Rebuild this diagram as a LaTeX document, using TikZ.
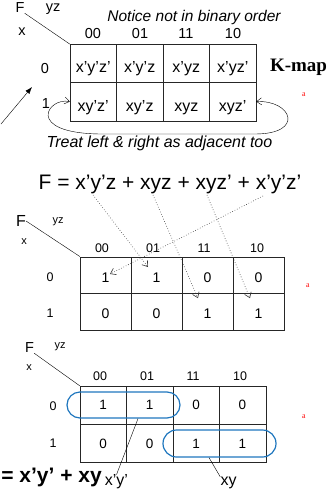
\documentclass[tikz,border=0pt]{standalone}
\usepackage{fontspec}
\setmainfont{Liberation Sans}
\newfontfamily\serifbf{Liberation Serif}
\usepackage{xcolor}
\usetikzlibrary{arrows.meta, shapes.misc}
\definecolor{loopblue}{RGB}{30,118,190}
\tikzset{
    cella/.style={rectangle, draw=black!85, minimum width=46.5pt,
                  minimum height=38.2pt, inner sep=0pt, text height=19pt, text depth=0pt,
                  font=\fontsize{16}{18}\selectfont},
    cellb/.style={rectangle, draw=black!85, minimum width=51pt,
                  minimum height=36.6pt, inner sep=0pt, text height=14pt, text depth=0pt,
                  font=\fontsize{14}{16}\selectfont},
    cellc/.style={rectangle, draw=black!85, minimum width=46.4pt,
                  minimum height=38.3pt, inner sep=0pt, font=\fontsize{13.5}{15}\selectfont},
    lbl/.style={inner sep=0pt, font=\fontsize{14.5}{16}\selectfont},
    slbl/.style={inner sep=0pt, font=\fontsize{12.5}{15}\selectfont},
    tlbl/.style={inner sep=0pt, font=\fontsize{11}{13}\selectfont},
    redmark/.style={inner sep=0pt, text=red, font=\serifbf\fontsize{8}{9}\selectfont},
    grp/.style={rounded rectangle, draw=loopblue, line width=1.2pt,
                inner sep=0pt},
    ptr/.style={dotted, line width=0.6pt, draw=black!80, -{Straight Barb[length=5pt,width=7pt]}},
    arr/.style={-{Latex[length=7pt,width=5pt]}},
    adj/.style={{Straight Barb[length=5pt,width=7pt]}-{Straight Barb[length=5pt,width=7pt]}}
}
\begin{document}
\begin{tikzpicture}[x=1pt, y=-1pt]
\useasboundingbox (0,0) rectangle (333,492);

% first map: minterms
\node[lbl] at (20,8) (fa) {F};
\node[lbl] at (53,9)  (yza) {yz};
\node[lbl] at (22,32) (xa) {x};
\node[inner sep=0pt, font=\itshape\fontsize{15.5}{17}\selectfont] at (194,17) (note) {Notice not in binary order};
\node[lbl] at (93,34)  (ha0) {00};
\node[lbl] at (140,34) (ha1) {01};
\node[lbl] at (186,34) (ha2) {11};
\node[lbl] at (233,34) (ha3) {10};
\node[lbl] at (45,69)  (ra0) {0};
\node[lbl] at (46,104) (ra1) {1};
\node[cella] at (93.25,63.4)  (a00) {x'y'z'};
\node[cella] at (139.75,63.4) (a01) {x'y'z};
\node[cella] at (186.25,63.4) (a02) {x'yz};
\node[cella] at (232.75,63.4) (a03) {x'yz'};
\node[cella] at (93.25,101.6)  (a10) {xy'z'};
\node[cella] at (139.75,101.6) (a11) {xy'z};
\node[cella] at (186.25,101.6) (a12) {xyz};
\node[cella] at (232.75,101.6) (a13) {xyz'};
\node[inner sep=0pt, font=\serifbf\bfseries\fontsize{19}{21}\selectfont] at (298.5,67) (kmap) {K-map};
\node[redmark] at (304,95) (reda) {a};
\node[inner sep=0pt, font=\itshape\fontsize{16}{18}\selectfont] at (159.5,143.5) (treat) {Treat left \& right as adjacent too};

\draw[thin] (fa.south east) -- (a00.north west);
\coordinate (pa) at (1,124);
\coordinate (pb) at (32,87);
\draw[arr] (pa) -- (pb);
\draw[adj] (a10.west) .. controls (48,97) and (24,133) .. (100,134)
    -- (255,134) .. controls (305,134) and (292,100) .. (a13.east);

% second map: plot the function
\node[inner sep=0pt, font=\fontsize{21}{24}\selectfont] at (170,184) (eqn) {F = x’y’z + xyz + xyz’ + x’y’z’};
\node[inner sep=0pt, font=\fontsize{16}{18}\selectfont] at (21,221) (fb) {F};
\node[tlbl] at (58,222) (yzb) {yz};
\node[tlbl] at (24,242) (xb) {x};
\node[slbl] at (102,248) (hb0) {00};
\node[slbl] at (153,248) (hb1) {01};
\node[slbl] at (204,248) (hb2) {11};
\node[slbl] at (257,248) (hb3) {10};
\node[slbl] at (50,277) (rb0) {0};
\node[slbl] at (50,313) (rb1) {1};
\node[cellb] at (105.5,275) (b00) {1};
\node[cellb] at (156.5,275) (b01) {1};
\node[cellb] at (207.5,275) (b02) {0};
\node[cellb] at (258.5,275) (b03) {0};
\node[cellb] at (105.5,311.7) (b10) {0};
\node[cellb] at (156.5,311.7) (b11) {0};
\node[cellb] at (207.5,311.7) (b12) {1};
\node[cellb] at (258.5,311.7) (b13) {1};
\node[redmark] at (308,286) (redb) {a};

\draw[thin] (fb.east) -- (b00.north west);
\coordinate (t1) at (93,195);
\coordinate (t2) at (153,195);
\coordinate (t3) at (207,195);
\coordinate (t4) at (263,196);
\draw[ptr] (t1) -- ([xshift=-8.5pt,yshift=8pt]b01.center);
\draw[ptr] (t2) -- ([xshift=-9.5pt,yshift=13.5pt]b12.center);
\draw[ptr] (t3) -- ([xshift=-8.5pt,yshift=13.5pt]b13.center);
\draw[ptr] (t4) -- ([xshift=4.5pt,yshift=1pt]b00.center);

% third map: grouping
\node[lbl] at (29.5,348) (fc) {F};
\node[tlbl] at (60,347) (yzc) {yz};
\node[tlbl] at (29,368) (xc) {x};
\node[slbl] at (100,376) (hc0) {00};
\node[slbl] at (147,376) (hc1) {01};
\node[slbl] at (193,376) (hc2) {11};
\node[slbl] at (240,376) (hc3) {10};
\node[slbl] at (53,406) (rc0) {0};
\node[slbl] at (53,443) (rc1) {1};
\node[cellc] at (103.2,405.2) (c00) {1};
\node[cellc] at (149.6,405.2) (c01) {1};
\node[cellc] at (196.1,405.2) (c02) {0};
\node[cellc] at (242.5,405.2) (c03) {0};
\node[cellc] at (103.2,443.5) (c10) {0};
\node[cellc] at (149.6,443.5) (c11) {0};
\node[cellc] at (196.1,443.5) (c12) {1};
\node[cellc] at (242.5,443.5) (c13) {1};
\node[redmark] at (304,417) (redc) {a};

\node[grp, minimum width=113pt, minimum height=26pt] at (123.5,405) (g1) {};
\node[grp, minimum width=113pt, minimum height=27pt] at (219.5,443.5) (g2) {};
\node[inner sep=0pt, font=\fontsize{16}{18}\selectfont] at (116.5,482) (lg1) {x'y'};
\node[inner sep=0pt, font=\fontsize{16}{18}\selectfont] at (228.5,483) (lg2) {xy};
\node[inner sep=0pt, anchor=east, font=\bfseries\fontsize{21}{24}\selectfont] at (102,477) (res) {F = x’y’ + xy};

\draw[thin] (fc.south east) -- (c00.north west);
\draw[thin] ([xshift=14.5pt]g1.south) -- (lg1.north);
\draw[thin] ([xshift=-10.5pt]g2.south) -- (lg2.north west);
\end{tikzpicture}
\end{document}
